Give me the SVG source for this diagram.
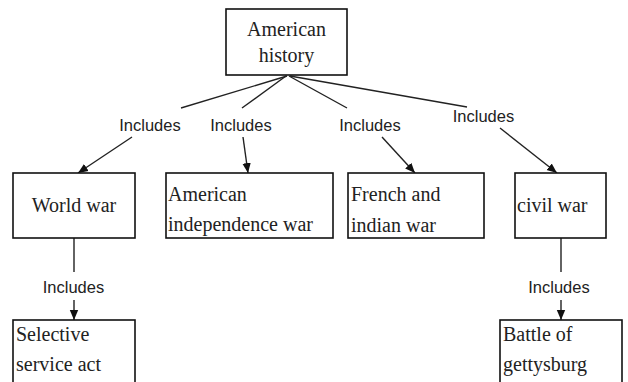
<svg xmlns="http://www.w3.org/2000/svg" width="628" height="382" viewBox="0 0 628 382">
<style>
.box{fill:#fff;stroke:#111;stroke-width:1.6}
.t{font-family:"Liberation Serif","Times New Roman",serif;font-size:20px;fill:#222}
.lbl{font-family:"Liberation Sans",Arial,sans-serif;font-size:16.5px;fill:#222;text-anchor:middle}
.ln{stroke:#222;stroke-width:1.4;fill:none}
.ar{marker-end:url(#ah)}
</style>
<defs>
<marker id="ah" markerUnits="userSpaceOnUse" markerWidth="10" markerHeight="10" viewBox="0 0 10 10" refX="10" refY="5" orient="auto">
<path d="M0,0.8 L10,5 L0,9.2 Z" fill="#111"/>
</marker>
</defs>
<rect width="628" height="382" fill="#fff"/>
<g id="connectors">
<line class="ln" x1="287" y1="76" x2="181" y2="108"/>
<line class="ln ar" x1="132" y1="137" x2="78" y2="173"/>
<line class="ln" x1="286" y1="76" x2="242" y2="108"/>
<line class="ln ar" x1="243" y1="137" x2="248" y2="173"/>
<line class="ln" x1="289" y1="76" x2="347" y2="108"/>
<line class="ln ar" x1="382" y1="137" x2="415" y2="173"/>
<line class="ln" x1="290" y1="76" x2="467" y2="107"/>
<line class="ln ar" x1="500" y1="128" x2="557" y2="173"/>
<line class="ln" x1="74" y1="238" x2="74" y2="272"/>
<line class="ln ar" x1="74" y1="300" x2="74" y2="320"/>
<line class="ln" x1="561" y1="238" x2="561" y2="272"/>
<line class="ln ar" x1="561" y1="300" x2="561" y2="320"/>
<text class="lbl" x="150" y="131">Includes</text>
<text class="lbl" x="241" y="131">Includes</text>
<text class="lbl" x="370" y="131">Includes</text>
<text class="lbl" x="483.5" y="122">Includes</text>
<text class="lbl" x="73.5" y="293">Includes</text>
<text class="lbl" x="559" y="293">Includes</text>
</g>
<g id="american-history">
<rect class="box" x="226" y="9" width="121" height="66"/>
<text class="t" x="286.5" y="36" text-anchor="middle">American</text>
<text class="t" x="286.5" y="62" text-anchor="middle">history</text>
</g>
<g id="world-war">
<rect class="box" x="13" y="173" width="122" height="65"/>
<text class="t" x="74" y="212" text-anchor="middle">World war</text>
</g>
<g id="american-independence-war">
<rect class="box" x="166" y="173" width="167" height="65"/>
<text class="t" x="168" y="201">American</text>
<text class="t" x="168" y="231">independence war</text>
</g>
<g id="french-and-indian-war">
<rect class="box" x="348" y="173" width="136" height="65"/>
<text class="t" x="351" y="201">French and</text>
<text class="t" x="351" y="232">indian war</text>
</g>
<g id="civil-war">
<rect class="box" x="515" y="173" width="91" height="65"/>
<text class="t" x="517" y="212">civil war</text>
</g>
<g id="selective-service-act">
<rect class="box" x="13" y="320" width="122" height="70"/>
<text class="t" x="16" y="341">Selective</text>
<text class="t" x="16" y="371">service act</text>
</g>
<g id="battle-of-gettysburg">
<rect class="box" x="500" y="320" width="122" height="70"/>
<text class="t" x="503" y="341">Battle of</text>
<text class="t" x="503" y="371">gettysburg</text>
</g>
</svg>
